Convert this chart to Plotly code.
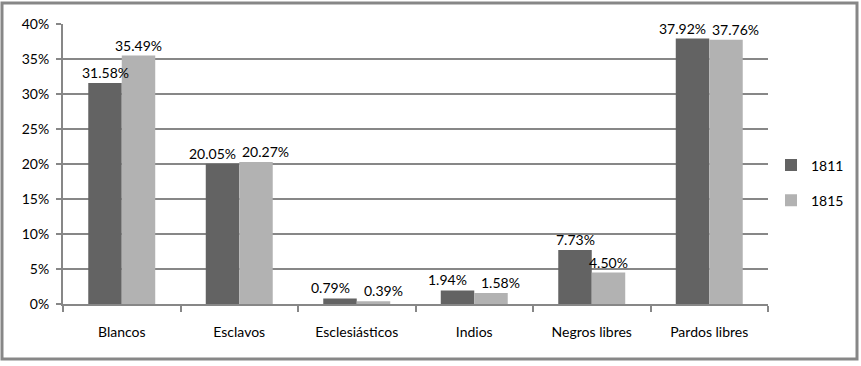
import plotly.graph_objects as go

categories = ["Blancos", "Esclavos", "Esclesiásticos", "Indios", "Negros libres", "Pardos libres"]
vals_1811 = [31.58, 20.05, 0.79, 1.94, 7.73, 37.92]
vals_1815 = [35.49, 20.27, 0.39, 1.58, 4.50, 37.76]
series_names = ["1811", "1815"]
tick_vals = [0, 5, 10, 15, 20, 25, 30, 35, 40]
tick_text = [f"{v}%" for v in tick_vals]

font = "Lato, 'Open Sans', sans-serif"
colors = ["#636363", "#b2b2b2"]

L, R, T, B = 63, 93, 24, 62
W, H = 861, 366
pw, ph = W - L - R, H - T - B
bargap = 0.43
bar_px = pw / len(categories) * (1 - bargap) / 2

fig = go.Figure()
for name, vals, color in zip(series_names, [vals_1811, vals_1815], colors):
    fig.add_trace(go.Bar(
        x=categories, y=vals, name=name, marker_color=color, marker_line_width=0,
        legendgroup=name,
    ))

annotations = []
for cat, a, b in zip(categories, vals_1811, vals_1815):
    sep = 10 if abs(a - b) < 2.5 else 0
    for v, sgn in [(a, -1), (b, 1)]:
        annotations.append(dict(
            x=cat, y=v, xref="x", yref="y", text=f"{v:.2f}%", showarrow=False,
            yanchor="bottom", xanchor="center", xshift=sgn * (bar_px / 2 + sep), yshift=0,
            font=dict(size=14, color="#000000", family=font),
        ))

fig.update_layout(
    width=W, height=H, barmode="group", bargap=bargap, bargroupgap=0,
    paper_bgcolor="white", plot_bgcolor="white",
    margin=dict(l=L, r=R, t=T, b=B, autoexpand=False),
    font=dict(family=font, size=14, color="#000000"),
    legend=dict(x=(771 - L) / pw, y=(H - B - 183) / ph,
                yanchor="middle", xanchor="left", font=dict(size=14),
                traceorder="grouped", tracegroupgap=14, itemwidth=30),
    showlegend=True,
    annotations=annotations,
    shapes=[dict(type="rect", xref="paper", yref="paper",
                 x0=(2 - L) / pw, x1=(857 - L) / pw,
                 y0=((H - B) - 359) / ph, y1=((H - B) - 3) / ph,
                 line=dict(color="#878787", width=3), layer="below")],
)
fig.update_yaxes(range=[0, 40], tickvals=tick_vals, ticktext=tick_text, showgrid=True,
                 gridcolor="#878787", gridwidth=2, showline=True, linecolor="#878787", linewidth=2,
                 ticks="outside", ticklen=5, tickcolor="#878787", tickwidth=2, zeroline=False,
                 tickfont=dict(size=14), automargin=False, ticklabelstandoff=4)
fig.update_xaxes(showline=True, linecolor="#878787", linewidth=2, ticks="outside", tickson="boundaries",
                 ticklen=6, tickcolor="#878787", tickwidth=2, tickfont=dict(size=14),
                 automargin=False, ticklabelstandoff=14)
fig.write_html("out.html", config={"displayModeBar": False},
               post_script="document.body.style.margin='0';document.documentElement.style.margin='0';")
